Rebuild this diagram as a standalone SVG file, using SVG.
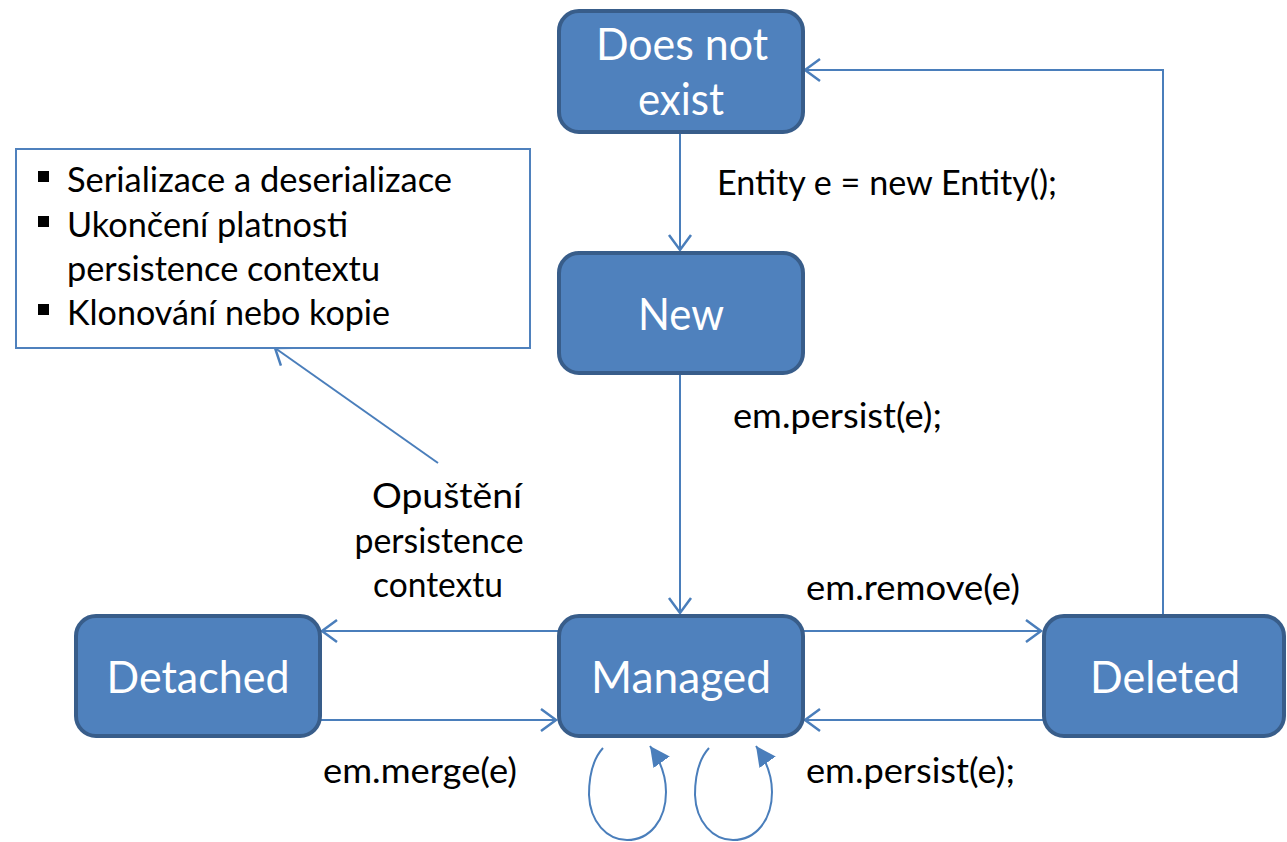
<svg xmlns="http://www.w3.org/2000/svg" width="1287" height="842" viewBox="0 0 1287 842">
<style>
.node rect{fill:#4F81BD;stroke:#385D8A;stroke-width:4}
.node text{fill:#fff;font-family:Lato,"Open Sans",sans-serif;font-size:44px;text-anchor:middle}
.lbl{fill:#000;font-family:Lato,"Open Sans",sans-serif;font-size:34px}
.edge{fill:none;stroke:#4A7EBB;stroke-width:2}
</style>
<defs>
<marker id="open" markerUnits="userSpaceOnUse" markerWidth="20" markerHeight="30" refX="16" refY="12" orient="auto" viewBox="0 0 20 24">
<polyline points="1,1 16,12 1,23" fill="none" stroke="#4A7EBB" stroke-width="2.5"/>
</marker>
<marker id="solid" markerUnits="userSpaceOnUse" markerWidth="24" markerHeight="24" refX="20" refY="10" orient="auto" viewBox="0 0 24 20">
<polygon points="0,0 20,10 0,20" fill="#4A7EBB"/>
</marker>
</defs>
<rect width="1287" height="842" fill="#fff"/>
<g id="connectors">
<line class="edge" x1="680" y1="133" x2="680" y2="250" marker-end="url(#open)"/>
<line class="edge" x1="680" y1="374" x2="680" y2="613" marker-end="url(#open)"/>
<line class="edge" x1="558" y1="631" x2="322" y2="631" marker-end="url(#open)"/>
<line class="edge" x1="320" y1="720" x2="556" y2="720" marker-end="url(#open)"/>
<line class="edge" x1="803" y1="631" x2="1041" y2="631" marker-end="url(#open)"/>
<line class="edge" x1="1043" y1="720" x2="805" y2="720" marker-end="url(#open)"/>
<polyline class="edge" points="1163,615 1163,70 805,70" marker-end="url(#open)"/>
<line class="edge" x1="438" y1="463" x2="275" y2="348" marker-end="url(#open)"/>
<path class="edge" stroke-width="3" d="M603,748 C592,760 589,778 589,795 C590,822 607,840 627,840 C650,840 666,820 666,792 C666,775 660,760 650,746" marker-end="url(#solid)"/>
<path class="edge" stroke-width="3" d="M709,748 C698,760 695,778 695,795 C696,822 713,840 733,840 C756,840 772,820 772,792 C772,775 766,760 756,746" marker-end="url(#solid)"/>
</g>
<g id="note">
<rect x="16" y="149" width="514" height="199" fill="#fff" stroke="#4F81BD" stroke-width="2"/>
<rect x="38" y="171" width="11" height="11" fill="#000"/>
<rect x="38" y="216" width="11" height="11" fill="#000"/>
<rect x="38" y="304" width="11" height="11" fill="#000"/>
<text class="lbl" x="67" y="192" textLength="385" lengthAdjust="spacingAndGlyphs">Serializace a deserializace</text>
<text class="lbl" x="67" y="237" textLength="281" lengthAdjust="spacingAndGlyphs">Ukončení platnosti</text>
<text class="lbl" x="67" y="281" textLength="313" lengthAdjust="spacingAndGlyphs">persistence contextu</text>
<text class="lbl" x="67" y="325" textLength="323" lengthAdjust="spacingAndGlyphs">Klonování nebo kopie</text>
</g>
<g id="n-doesnotexist" class="node">
<rect x="559" y="11" width="244" height="121" rx="20"/>
<text x="682" y="60" textLength="172" lengthAdjust="spacingAndGlyphs">Does not</text>
<text x="681" y="115" textLength="86" lengthAdjust="spacingAndGlyphs">exist</text>
</g>
<g id="n-new" class="node">
<rect x="559" y="253" width="244" height="120" rx="20"/>
<text x="681" y="330" textLength="86" lengthAdjust="spacingAndGlyphs">New</text>
</g>
<g id="n-managed" class="node">
<rect x="559" y="616" width="244" height="120" rx="20"/>
<text x="681" y="693" textLength="180" lengthAdjust="spacingAndGlyphs">Managed</text>
</g>
<g id="n-detached" class="node">
<rect x="76" y="616" width="244" height="120" rx="20"/>
<text x="198" y="693" textLength="183" lengthAdjust="spacingAndGlyphs">Detached</text>
</g>
<g id="n-deleted" class="node">
<rect x="1044" y="616" width="240" height="120" rx="20"/>
<text x="1165" y="693" textLength="150" lengthAdjust="spacingAndGlyphs">Deleted</text>
</g>
<g id="labels">
<text class="lbl" x="717" y="195" textLength="340" lengthAdjust="spacingAndGlyphs">Entity e = new Entity();</text>
<text class="lbl" x="733" y="428" textLength="209" lengthAdjust="spacingAndGlyphs">em.persist(e);</text>
<text class="lbl" x="447" y="508" text-anchor="middle" textLength="150" lengthAdjust="spacingAndGlyphs">Opuštění</text>
<text class="lbl" x="439" y="553" text-anchor="middle" textLength="169" lengthAdjust="spacingAndGlyphs">persistence</text>
<text class="lbl" x="438" y="597" text-anchor="middle" textLength="130" lengthAdjust="spacingAndGlyphs">contextu</text>
<text class="lbl" x="806" y="600" textLength="214" lengthAdjust="spacingAndGlyphs">em.remove(e)</text>
<text class="lbl" x="323" y="783" textLength="194" lengthAdjust="spacingAndGlyphs">em.merge(e)</text>
<text class="lbl" x="806" y="783" textLength="209" lengthAdjust="spacingAndGlyphs">em.persist(e);</text>
</g>
</svg>
